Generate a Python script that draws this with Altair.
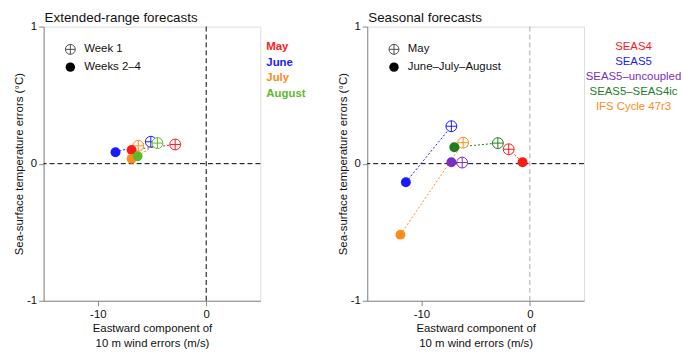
import altair as alt
import pandas as pd

# ---------------- data ----------------
months = ["May", "June", "July", "August"]
month_colors = ["#ff1a1a", "#1a1aff", "#ff8c1a", "#5fb82a"]
week1_x = [-2.86, -5.11, -6.27, -4.50]
week1_y = [0.14, 0.16, 0.13, 0.15]
weeks24_x = [-6.88, -8.37, -6.88, -6.33]
weeks24_y = [0.10, 0.083, 0.035, 0.054]

systems = ["SEAS4", "SEAS5", "SEAS5–uncoupled", "SEAS5–SEAS4ic", "IFS Cycle 47r3"]
system_colors = ["#ff1a1a", "#1a1aff", "#7a2fbf", "#1e7d1e", "#ff8c1a"]
may_x = [-1.95, -7.24, -6.24, -2.95, -6.15]
may_y = [0.105, 0.273, 0.008, 0.15, 0.153]
jja_x = [-0.67, -11.44, -7.24, -6.97, -11.94]
jja_y = [0.01, -0.136, 0.01, 0.12, -0.518]

panel_titles = ["Extended-range forecasts", "Seasonal forecasts"]
x_ticks = [-10, 0]
y_ticks = [-1, 0, 1]

FONT = "Liberation Sans"
CROSS = "M-1,0A1,1,0,1,0,1,0A1,1,0,1,0,-1,0ZM-1,0L1,0M0,-1L0,1"
W, H = 219, 277

def panel(names, colors, ax, ay, bx, by, legend_labels, title, vline_color,
          label_x, label_align, label_weight, label_step):
    rows = []
    for i, n in enumerate(names):
        rows.append({"s": n, "x": ax[i], "y": ay[i], "kind": "a", "i": i})
        rows.append({"s": n, "x": bx[i], "y": by[i], "kind": "b", "i": i})
    df = pd.DataFrame(rows)
    lab = pd.DataFrame({"s": names, "i": list(range(len(names)))})

    xs = alt.Scale(domain=[-15, 5], nice=False, zero=False)
    ys = alt.Scale(domain=[-1, 1], nice=False, zero=False)
    col = alt.Color("s:N", scale=alt.Scale(domain=names, range=colors), legend=None)

    xax = alt.Axis(values=x_ticks, labelExpr="datum.value", grid=False,
                   title=["Eastward component of", "10 m wind errors (m/s)"],
                   titleFontWeight="normal", titleFontSize=11.5, titlePadding=3,
                   titleLineHeight=15,
                   labelFontSize=11.5, labelPadding=3, tickSize=5, domainColor="#888",
                   tickColor="#888", labelColor="#111", titleColor="#111",
                   labelFont=FONT, titleFont=FONT)
    yax = alt.Axis(values=y_ticks, labelExpr="datum.value", grid=False,
                   title="Sea-surface temperature errors (°C)",
                   titleFontWeight="normal", titleFontSize=11.5, titlePadding=2,
                   labelFontSize=11.5, labelPadding=2, tickSize=5, domainColor="#888",
                   tickColor="#888", labelColor="#111", titleColor="#111",
                   labelFont=FONT, titleFont=FONT)

    base = alt.Chart(df)
    hrule = alt.Chart(pd.DataFrame({"y": [0]})).mark_rule(
        color="black", strokeDash=[5, 3], strokeWidth=1).encode(
        y=alt.Y("y:Q", scale=ys, axis=yax))
    vrule = alt.Chart(pd.DataFrame({"x": [0]})).mark_rule(
        color=vline_color, strokeDash=[5, 3], strokeWidth=1).encode(
        x=alt.X("x:Q", scale=xs, axis=xax))
    lines = base.mark_line(strokeDash=[2, 2], strokeWidth=1).encode(
        x=alt.X("x:Q", scale=xs, axis=xax), y=alt.Y("y:Q", scale=ys, axis=yax),
        color=col, detail="s:N")
    crosses = base.transform_filter("datum.kind == 'a'").mark_point(
        shape=CROSS, filled=False, size=121, strokeWidth=1, opacity=1,
        fill="white", fillOpacity=1).encode(
        x=alt.X("x:Q", scale=xs), y=alt.Y("y:Q", scale=ys), color=col)
    dots = base.transform_filter("datum.kind == 'b'").mark_circle(
        size=100, opacity=1).encode(
        x=alt.X("x:Q", scale=xs), y=alt.Y("y:Q", scale=ys), color=col)

    labels = alt.Chart(lab).transform_calculate(
        py=f"21 + datum.i * {label_step}").mark_text(
        align=label_align, baseline="middle", font=FONT, fontSize=11.5,
        fontWeight=label_weight).encode(
        x=alt.value(label_x), y=alt.Y("py:Q", scale=None), text="s:N", color=col)

    leg = pd.DataFrame({"t": legend_labels, "k": [0, 1]})
    leg_cross = alt.Chart(leg).transform_filter("datum.k == 0").mark_point(
        shape=CROSS, filled=False, size=100, strokeWidth=1, color="black").encode(
        x=alt.value(27), y=alt.value(23))
    leg_dot = alt.Chart(leg).transform_filter("datum.k == 1").mark_circle(
        size=90, color="black", opacity=1).encode(x=alt.value(27), y=alt.value(41))
    leg_text = alt.Chart(leg).transform_calculate(py="23 + datum.k * 18").mark_text(
        align="left", baseline="middle", font=FONT, fontSize=11.5, color="#111").encode(
        x=alt.value(41), y=alt.Y("py:Q", scale=None), text="t:N")

    ttl = alt.Chart(pd.DataFrame({"t": [title]})).mark_text(
        align="left", baseline="alphabetic", font=FONT, fontSize=13.5,
        color="#111").encode(x=alt.value(1), y=alt.value(-5), text="t:N")

    return alt.layer(hrule, vrule, lines, crosses, dots, labels,
                     leg_cross, leg_dot, leg_text, ttl).properties(width=W, height=H)

left = panel(months, month_colors, week1_x, week1_y, weeks24_x, weeks24_y,
             ["Week 1", "Weeks 2–4"], panel_titles[0], "black",
             225, "left", "bold", 15.6)
right = panel(systems, system_colors, may_x, may_y, jja_x, jja_y,
              ["May", "June–July–August"], panel_titles[1], "#aaaaaa",
              269, "center", "normal", 15)

chart = alt.hconcat(left, right, spacing=108, bounds="flush").resolve_scale(
    color="independent", x="independent", y="independent").configure_view(
    stroke="#888", strokeWidth=1).configure(padding={"left": 5, "top": 0, "right": 0, "bottom": 0})

chart.save("out.html", embed_options={"renderer": "svg", "actions": False})
